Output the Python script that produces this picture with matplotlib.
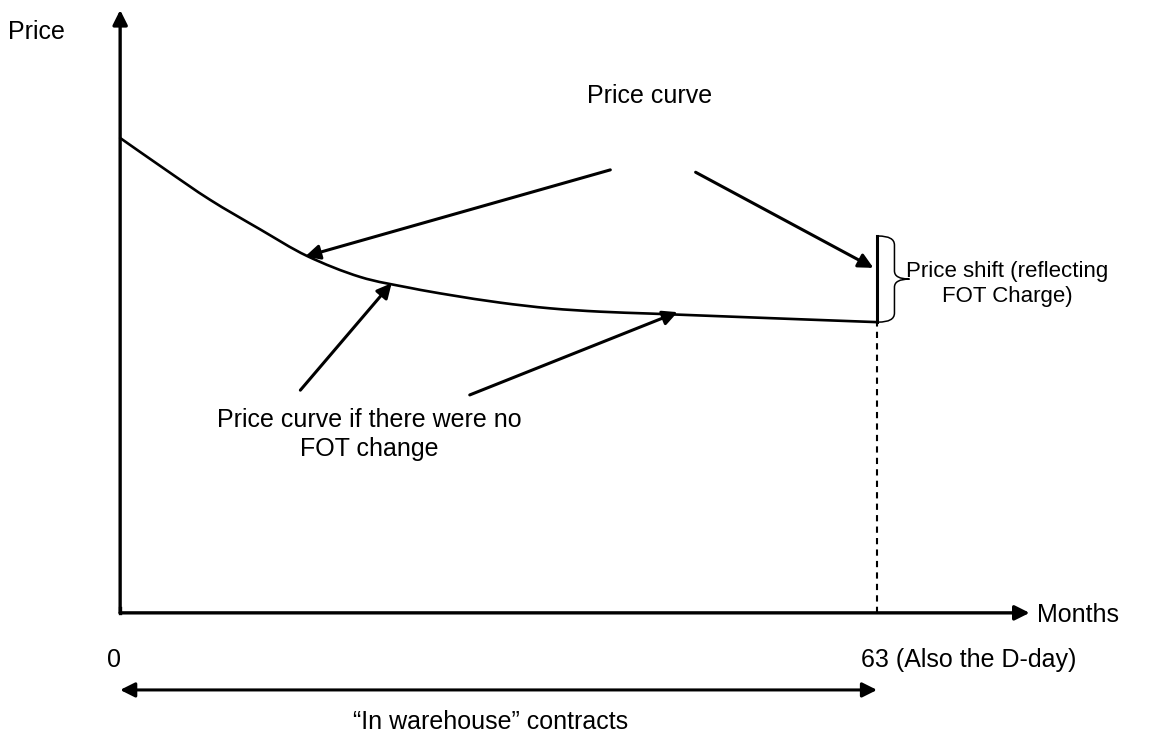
import numpy as np
import matplotlib.pyplot as plt
from matplotlib.path import Path
from matplotlib.patches import PathPatch

plt.rcParams['font.family'] = ['Liberation Sans', 'DejaVu Sans']

# data (months, arbitrary price units)
months = [0, 3.75, 7.49, 11.65, 15.56, 19.97, 24.13, 27.46, 31.62,
          35.79, 39.95, 44.11, 48.27, 52.43, 56.59, 63]
price = [99.8, 93.2, 86.8, 80.6, 75.0, 70.6, 68.3, 66.8, 65.2,
         64.0, 63.3, 62.9, 62.5, 62.1, 61.7, 61.1]
d_day = 63
shift_top = 79.2
x_end = 75.7
y_end = 126.7

fig = plt.figure(figsize=(11.53, 7.38), dpi=100)
ax = fig.add_axes([0, 0, 1, 1])
ax.set_xlim(-10, 85.97)
ax.set_ylim(-26.3, 128.8)
ax.axis('off')

black = 'black'
fs = 18

def arrow(x0, y0, x1, y1, style='-|>', lw=2.2, ms=22):
    ax.annotate('', xy=(x1, y1), xytext=(x0, y0),
                arrowprops=dict(arrowstyle=style, color=black, lw=lw,
                                mutation_scale=ms, shrinkA=0, shrinkB=0))

# axes
arrow(0, 0, 0, y_end, lw=2.4)
arrow(0, 0, x_end, 0, lw=2.4)
ax.plot([0, 0], [0, 1], color=black, lw=2.4, solid_capstyle='projecting')

# price curve, drawn as a smooth bezier path through the read points
pts = np.column_stack([months, price])
verts = [tuple(pts[0])]
codes = [Path.MOVETO]
for i in range(len(pts) - 1):
    p0 = pts[max(i - 1, 0)]
    p1 = pts[i]
    p2 = pts[i + 1]
    p3 = pts[min(i + 2, len(pts) - 1)]
    c1 = p1 + (p2 - p0) / 6
    c2 = p2 - (p3 - p1) / 6
    verts += [tuple(c1), tuple(c2), tuple(p2)]
    codes += [Path.CURVE4] * 3
ax.add_patch(PathPatch(Path(verts, codes), fill=False, color=black, lw=1.9,
                       capstyle='round'))

# price shift bar + dashed drop line
ax.plot([d_day, d_day], [price[-1], shift_top], color=black, lw=2.2)
ax.plot([d_day, d_day], [0, price[-1]], color=black, lw=1.5, ls=(0, (3, 2.5)))

# curly brace
bx = d_day + 0.1
dx = 1.35
tip = 2.6
mid = (price[-1] + shift_top) / 2
bverts = [(bx, shift_top), (bx + dx, shift_top), (bx + dx, shift_top - 1.9),
          (bx + dx, mid + 1.7), (bx + dx, mid), (bx + tip, mid),
          (bx + dx, mid), (bx + dx, mid - 1.7),
          (bx + dx, price[-1] + 1.9), (bx + dx, price[-1]), (bx, price[-1])]
bcodes = [Path.MOVETO, Path.CURVE3, Path.CURVE3,
          Path.LINETO, Path.CURVE3, Path.CURVE3,
          Path.CURVE3, Path.CURVE3,
          Path.LINETO, Path.CURVE3, Path.CURVE3]
ax.add_patch(PathPatch(Path(bverts, bcodes), fill=False, color=black, lw=1.1))

# annotation arrows
arrow(40.8, 93.1, 15.4, 74.9)
arrow(47.9, 92.6, 62.7, 72.5)
arrow(15.0, 46.8, 22.6, 69.3)
arrow(29.1, 45.8, 46.4, 63.2)

# bottom double arrow
arrow(0, -16.2, d_day, -16.2, style='<|-|>', lw=2.2)

# texts
ax.text(-9.3, 122, 'Price', fontsize=fs, ha='left', va='center')
ax.text(44.1, 108.6, 'Price curve', fontsize=fs, ha='center', va='center')
ax.text(73.85, 69.1, 'Price shift (reflecting\nFOT Charge)', fontsize=16,
        ha='center', va='center', multialignment='center', linespacing=1.2)
ax.text(20.7, 37.5, 'Price curve if there were no\nFOT change', fontsize=fs,
        ha='center', va='center', multialignment='center', linespacing=1.28)
ax.text(76.3, -0.4, 'Months', fontsize=fs, ha='left', va='center')
ax.text(-0.5, -9.9, '0', fontsize=fs, ha='center', va='center')
ax.text(61.7, -9.9, '63 (Also the D-day)', fontsize=fs, ha='left', va='center')
ax.text(30.8, -22.9, '\u201cIn warehouse\u201d contracts', fontsize=fs,
        ha='center', va='center')

fig.savefig('out.png', dpi=100)
